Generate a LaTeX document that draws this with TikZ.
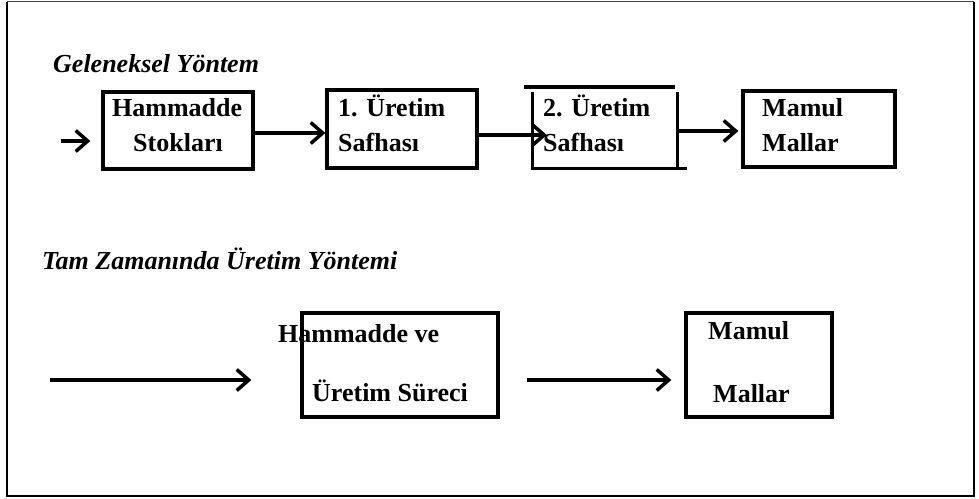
\documentclass[tikz,border=0pt]{standalone}
\usepackage{fontspec}
\setmainfont{Liberation Serif}
\usetikzlibrary{arrows.meta}
\begin{document}
\begin{tikzpicture}[x=1pt,y=-1pt,
  box/.style={draw=black,line width=3.3pt,minimum width=#1,inner sep=0pt,rectangle},
  lbl/.style={anchor=base west,inner sep=0pt,font=\fontsize{26}{30}\selectfont\bfseries},
  ttl/.style={anchor=base west,inner sep=0pt,font=\fontsize{26}{30}\selectfont\bfseries\itshape},
  frame/.style={line width=2pt},
  arr/.style={line width=3.5pt,-{Straight Barb[length=12pt,width=21pt,line width=3.5pt]}}]
\useasboundingbox (0,0) rectangle (979,498);
\coordinate (f1) at (7,1.5);
\coordinate (f2) at (974,1.5);
\coordinate (f3) at (974,496);
\coordinate (f4) at (7,496);
\draw[frame,line join=miter] (f2) -- (f3) -- (f4) -- (f1);
\draw[line width=1.2pt,black!75] (f1) -- (f2);
% titles
\node[ttl] (t1) at (53,72) {Geleneksel Yöntem};
\node[ttl] (t2) at (42,269) {Tam Zamanında Üretim Yöntemi};
% top row boxes
\node[box=150pt,minimum height=77pt] (b1) at (178,130.5) {};
\node[box=150pt,minimum height=78pt] (b2) at (402,129) {};
\node[draw=none,minimum width=144pt,minimum height=78pt,inner sep=0pt] (b3) at (605,129) {};
\draw[line width=3.3pt] (524,87) -- (675,87);
\draw[line width=3.3pt] (b3.north west |- 0,92) -- (b3.south west);
\draw[line width=3.3pt] (b3.north east |- 0,92) -- (b3.south east);
\draw[line width=3.3pt] ([xshift=-1.5pt]b3.south west) -- ([xshift=10pt]b3.south east);
\node[box=152pt,minimum height=76pt] (b4) at (819,129) {};
% top row texts
\node[lbl] (h1) at (112,116) {Hammadde};
\node[lbl] (h2) at (133,151) {Stokları};
\node[lbl] (u1) at (338,116) {1. Üretim};
\node[lbl] (u2) at (338,151) {Safhası};
\node[lbl] (v1) at (543,116) {2. Üretim};
\node[lbl] (v2) at (543,151) {Safhası};
\node[lbl] (m1) at (762,116) {Mamul};
\node[lbl] (m2) at (762,151) {Mallar};
% top row arrows
\coordinate (s0) at (61,141);
\draw[arr] (s0) -- ([xshift=-11pt,yshift=-10.5pt]b1.west);
\draw[arr] ([yshift=-2.5pt]b1.east) -- ([yshift=-4pt]b2.west);
\draw[arr] ([yshift=-6pt]b2.east) -- ([xshift=14pt,yshift=-6pt]b3.west);
\draw[arr] ([yshift=-2pt]b3.east) -- ([xshift=-3pt,yshift=-2pt]b4.west);
% bottom row
\node[box=196pt,minimum height=104pt] (c1) at (400,365) {};
\node[box=146pt,minimum height=104pt] (c2) at (759,365) {};
\node[lbl] (w1) at (278,342) {Hammadde ve};
\node[lbl] (w2) at (312,401) {Üretim Süreci};
\node[lbl] (n1) at (708,339) {Mamul};
\node[lbl] (n2) at (713,402) {Mallar};
\coordinate (s1) at (50,380);
\draw[arr] (s1) -- ([xshift=-49pt,yshift=-15pt]c1.west);
\draw[arr] ([xshift=27pt,yshift=-15pt]c1.east) -- ([xshift=-13pt,yshift=-15pt]c2.west);
\end{tikzpicture}
\end{document}
